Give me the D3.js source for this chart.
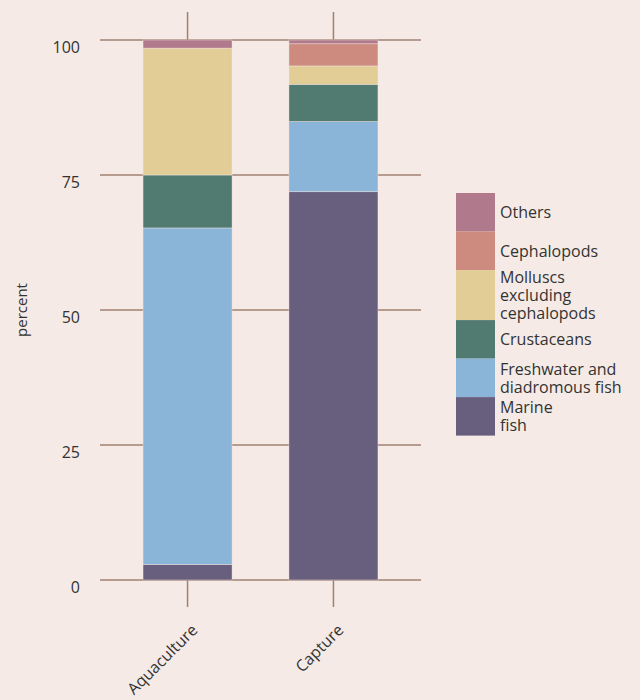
<!DOCTYPE html>
<html lang="en">
<head>
<meta charset="UTF-8">
<title>Production by species group</title>
<script src="https://cdn.jsdelivr.net/npm/d3@7/dist/d3.min.js"></script>
<style>
  body { margin: 0; background: #f5eae6; }
  text { font-family: "Open Sans", "Noto Sans", sans-serif; fill: #333; }
</style>
</head>
<body>
<div id="container"></div>
<script>
// data (percent of each production type)
const categories = ["Aquaculture", "Capture"];
const groups = ["Marine fish", "Freshwater and diadromous fish", "Crustaceans",
                "Molluscs excluding cephalopods", "Cephalopods", "Others"];
const aquacultureValues = [2.9, 62.3, 9.8, 23.5, 0, 1.5];
const captureValues = [71.9, 13.0, 6.9, 3.4, 4.1, 0.7];
const legendLabels = [["Marine", "fish"], ["Freshwater and", "diadromous fish"], ["Crustaceans"],
                      ["Molluscs", "excluding", "cephalopods"], ["Cephalopods"], ["Others"]];
const yTicks = [0, 25, 50, 75, 100];
const colors = ["#685e7e", "#8ab4d8", "#517a70", "#e2cd96", "#cc8b7e", "#b07a8c"];

const W = 640, H = 700;
const svg = d3.select("#container").append("svg")
    .attr("width", W).attr("height", H)
    .style("background-color", "#f5eae6");

const plotLeft = 100, plotRight = 421, plotTop = 40, plotBottom = 580;
const gridColor = "#a08072";
const fontSize = "16px";

let x = d3.scaleBand().domain(categories).range([plotLeft, plotRight])
    .paddingInner(0.39).paddingOuter(0.295);
let y = d3.scaleLinear().domain([0, 100]).range([plotBottom, plotTop]);
let color = d3.scaleOrdinal().domain(groups).range(colors);

// build table for the stack
let table = categories.map((c, i) => {
    let row = { category: c };
    let vals = i === 0 ? aquacultureValues : captureValues;
    groups.forEach((g, j) => row[g] = vals[j]);
    return row;
});
let series = d3.stack().keys(groups)(table);

// gridlines
svg.append("g").selectAll("line").data(yTicks).join("line")
    .attr("x1", plotLeft).attr("x2", plotRight)
    .attr("y1", d => y(d)).attr("y2", d => y(d))
    .attr("stroke", gridColor).attr("stroke-width", 1.5);

// y labels
svg.append("g").selectAll("text").data(yTicks).join("text")
    .attr("x", 80).attr("y", d => y(d) + 9)
    .attr("text-anchor", "end").attr("dominant-baseline", "middle")
    .style("font-size", fontSize)
    .text(d => d);

svg.append("text")
    .attr("transform", "translate(23," + ((plotTop + plotBottom) / 2) + ") rotate(-90)")
    .attr("text-anchor", "middle").attr("dominant-baseline", "middle")
    .style("font-size", "15px")
    .text("percent");

// ticks above and below
categories.forEach(c => {
    let cx = x(c) + x.bandwidth() / 2;
    svg.append("line").attr("x1", cx).attr("x2", cx).attr("y1", 12).attr("y2", plotTop)
        .attr("stroke", gridColor).attr("stroke-width", 1.5);
    svg.append("line").attr("x1", cx).attr("x2", cx).attr("y1", plotBottom).attr("y2", 607)
        .attr("stroke", gridColor).attr("stroke-width", 1.5);
    svg.append("text")
        .attr("transform", "translate(" + (cx + 8) + ",628) rotate(-45)")
        .attr("text-anchor", "end").attr("dominant-baseline", "middle")
        .style("font-size", fontSize)
        .text(c);
});

// bars
svg.append("g").selectAll("g").data(series).join("g")
    .attr("fill", d => color(d.key))
    .selectAll("rect").data(d => d).join("rect")
    .attr("x", d => x(d.data.category))
    .attr("width", x.bandwidth())
    .attr("y", d => y(d[1]))
    .attr("height", d => y(d[0]) - y(d[1]))
    .attr("stroke", "#f5eae6").attr("stroke-width", 0.6).attr("stroke-opacity", 0.7);

// legend (reverse order, top to bottom)
let legendX = 456, keyW = 39, lineH = 18;
let ly = 193;
for (let j = groups.length - 1; j >= 0; j--) {
    let lines = legendLabels[j];
    let h = Math.max(38.5, lines.length * 16.7);
    svg.append("rect")
        .attr("x", legendX).attr("y", ly).attr("width", keyW).attr("height", h)
        .attr("fill", colors[j]);
    let mid = ly + h / 2;
    let label = svg.append("text")
        .attr("dominant-baseline", "middle")
        .style("font-size", fontSize);
    lines.forEach((t, k) => {
        label.append("tspan")
            .attr("x", legendX + keyW + 5)
            .attr("y", mid + (k - (lines.length - 1) / 2) * lineH + 2)
            .text(t);
    });
    ly += h;
}
</script>
</body>
</html>
